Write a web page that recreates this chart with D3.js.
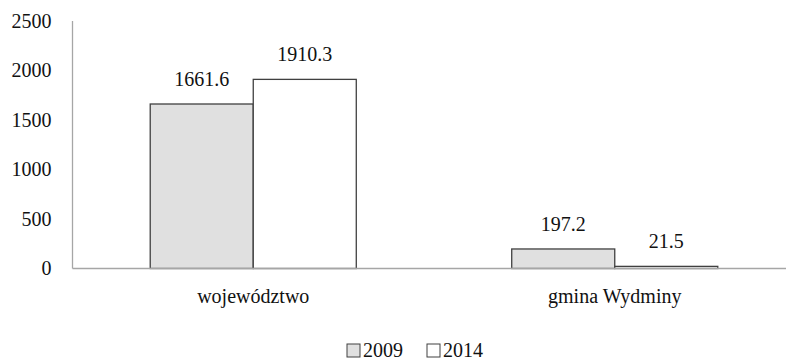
<!DOCTYPE html>
<html>
<head>
<meta charset="utf-8">
<script src="https://cdn.jsdelivr.net/npm/d3@7"></script>
</head>
<body style="margin:0">
<svg id="chart" width="786" height="361" font-family="Liberation Serif" font-size="20"></svg>
<script>
const categories = ["województwo", "gmina Wydminy"];
const seriesNames = ["2009", "2014"];
const values2009 = [1661.6, 197.2];
const values2014 = [1910.3, 21.5];
const yTicks = [0, 500, 1000, 1500, 2000, 2500];
const seriesFill = ["#e0e0e0", "#ffffff"];

const svg = d3.select("#chart");
const W = 786;
const plotLeft = 72.5, plotBase = 268.5, plotTop = 21;

const x0 = d3.scaleBand().domain(categories).range([plotLeft, 795.5])
  .paddingInner(0.43).paddingOuter(0.215);
const x1 = d3.scaleBand().domain(seriesNames).range([0, x0.bandwidth()]);
const y = d3.scaleLinear().domain([0, 2500]).range([plotBase, plotTop]);

function styleText(sel) {
  return sel.style("font-family", "Liberation Serif").style("font-size", "20px");
}

// vertical axis line
svg.append("line").attr("x1", plotLeft).attr("x2", plotLeft).attr("y1", plotTop).attr("y2", plotBase)
  .attr("stroke", "#a6a6a6").attr("stroke-width", 1.3);

// y tick labels
const yAxis = d3.axisLeft(y).tickValues(yTicks).tickFormat(d3.format("d")).tickSize(0).tickPadding(0);
const gy = svg.append("g").attr("transform", `translate(${plotLeft - 21},0)`).call(yAxis);
gy.select(".domain").remove();
gy.attr("font-family", "Liberation Serif").attr("font-size", 20);
styleText(gy.selectAll("text").attr("fill", "#111"));

const rows = categories.map((c, i) => ({ cat: c, vals: [values2009[i], values2014[i]] }));

const groups = svg.selectAll("g.cat").data(rows).join("g")
  .attr("class", "cat")
  .attr("transform", d => `translate(${x0(d.cat)},0)`);

groups.selectAll("rect").data(d => d.vals.map((v, j) => ({ v, s: seriesNames[j], j })))
  .join("rect")
  .attr("x", d => x1(d.s))
  .attr("y", d => y(d.v))
  .attr("width", x1.bandwidth())
  .attr("height", d => plotBase - y(d.v))
  .attr("fill", d => seriesFill[d.j])
  .attr("stroke", "#404040")
  .attr("stroke-width", 1.3);

styleText(groups.selectAll("text.val").data(d => d.vals.map((v, j) => ({ v, s: seriesNames[j] })))
  .join("text")
  .attr("class", "val")
  .attr("x", d => x1(d.s) + x1.bandwidth() / 2)
  .attr("y", d => y(d.v) - 18)
  .attr("text-anchor", "middle")
  .attr("fill", "#111")
  .text(d => d.v.toFixed(1)));

// baseline
svg.append("line").attr("x1", plotLeft).attr("x2", W).attr("y1", plotBase).attr("y2", plotBase)
  .attr("stroke", "#a6a6a6").attr("stroke-width", 1.3);

// category labels
styleText(svg.selectAll("text.catlabel").data(categories).join("text")
  .attr("class", "catlabel")
  .attr("x", d => x0(d) + x0.bandwidth() / 2)
  .attr("y", 303)
  .attr("text-anchor", "middle")
  .attr("fill", "#111")
  .text(d => d));

// legend
const legendX = [347, 427];
const lg = svg.selectAll("g.leg").data(seriesNames).join("g")
  .attr("class", "leg")
  .attr("transform", (d, i) => `translate(${legendX[i]},0)`);
lg.append("rect").attr("x", 0).attr("y", 344).attr("width", 13).attr("height", 13)
  .attr("fill", (d, i) => seriesFill[i]).attr("stroke", "#404040").attr("stroke-width", 1);
styleText(lg.append("text").attr("x", 16).attr("y", 357).attr("fill", "#111").text(d => d));
</script>
</body>
</html>
